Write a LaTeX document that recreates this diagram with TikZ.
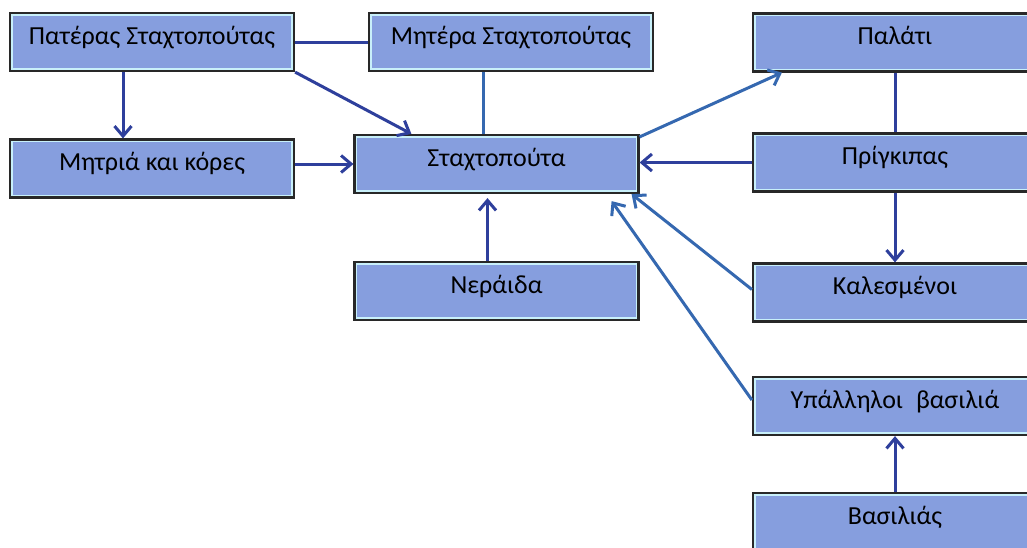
\documentclass[tikz,border=0pt]{standalone}
\usepackage{fontspec}
\setmainfont{Carlito}
\usetikzlibrary{arrows.meta}
\definecolor{boxfill}{RGB}{134,158,222}
\definecolor{boxglow}{RGB}{200,240,250}
\definecolor{boxedge}{RGB}{40,40,40}
\definecolor{linkdark}{RGB}{46,63,156}
\definecolor{linksteel}{RGB}{53,104,176}
\tikzset{
  entity/.style={rectangle, fill=boxfill, draw=boxedge, line width=2.2pt,
    minimum width=284pt, minimum height=58pt, inner sep=0pt,
    text height=20pt, text depth=16pt, font=\fontsize{26}{29}\selectfont,
    path picture={\draw[boxglow, line width=5.5pt]
      (path picture bounding box.south west) rectangle (path picture bounding box.north east);}},
  link/.style={line width=3pt, linkdark},
  steel/.style={linksteel},
  arr/.style={-{Straight Barb[length=10pt,width=17pt]}},
}
\begin{document}
\begin{tikzpicture}[x=1pt,y=-1pt]
\useasboundingbox (0,0) rectangle (1027,547);
\clip (0,0) rectangle (1027,547);
\fill[white] (0,0) rectangle (1027,547);

% family and household
\node[entity] (pat)   at (152,42)    {Πατέρας Σταχτοπούτας};
\node[entity] (mit)   at (152,168.5) {Μητριά και κόρες};
\node[entity] (mit2)  at (511,42)    {Μητέρα Σταχτοπούτας};
\node[entity] (stach) at (496.5,164) {Σταχτοπούτα};
\node[entity] (ner)   at (496.5,291) {Νεράιδα};

% palace side
\node[entity] (pal)   at (895,42.5)  {Παλάτι};
\node[entity] (prig)  at (895,162.5) {Πρίγκιπας};
\node[entity] (kal)   at (895,292.5) {Καλεσμένοι};
\node[entity] (ypal)  at (895,406)   {Υπάλληλοι\enspace βασιλιά};
\node[entity] (vas)   at (895,522)   {Βασιλιάς};

% connectors
\draw[link] (pat.east) -- (mit2.west);
\draw[link, arr] (pat.south east) -- ([xshift=58pt]stach.north west);
\draw[link, arr] ([xshift=-29pt]pat.south) -- ([xshift=-29pt]mit.north);
\draw[link, arr] (mit.east |- stach.west) -- (stach.west);
\draw[link, steel] ([xshift=-28pt]mit2.south) -- ([xshift=-28pt]mit2.south |- stach.north);
\draw[link, steel, arr] ([yshift=-3pt]stach.north east) -- ([xshift=30pt]pal.south west);
\draw[link] (pal) -- (prig);
\draw[link, arr] (prig.west) -- (prig.west -| stach.east);
\draw[link, arr] (prig) -- (kal);
\draw[link, steel, arr] ([yshift=3pt]kal.west) -- ([xshift=-8pt]stach.south east);
\draw[link, steel, arr] ([yshift=6pt]ypal.west) -- ([xshift=-28pt,yshift=-7pt]stach.south east);
\draw[link, arr] ([xshift=-9pt]ner.north) -- ([xshift=-9pt,yshift=-4pt]ner.north |- stach.south);
\draw[link, arr] (vas) -- (ypal);
\end{tikzpicture}
\end{document}
